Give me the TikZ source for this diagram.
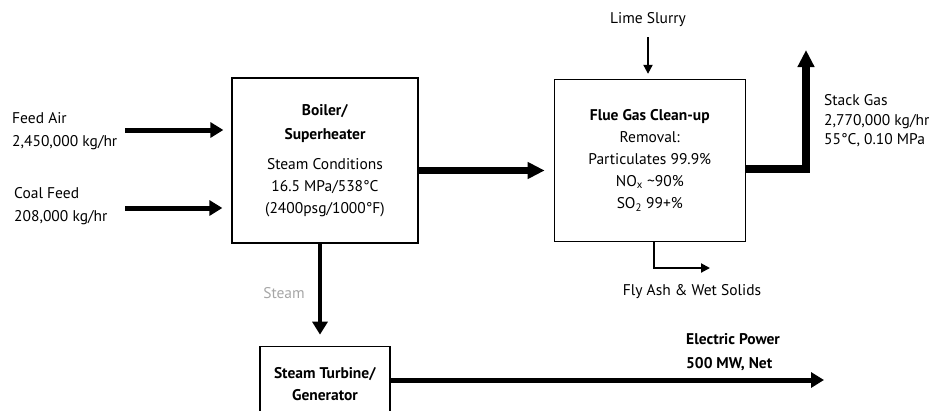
\documentclass[tikz,border=0pt]{standalone}
\usepackage{fontspec}
\setmainfont{PT Sans}
\usetikzlibrary{arrows.meta, positioning}

\begin{document}
\begin{tikzpicture}[
  x=1pt, y=-1pt,
  font=\fontsize{15.5}{23}\selectfont,
  box/.style={draw, line width=1.3pt, align=center, inner sep=0pt,
              font=\fontsize{15.5}{22}\selectfont},
  lbl/.style={align=left, inner sep=0pt},
  flow/.style={-{Triangle[length=13pt, width=15pt]}, line width=5pt},
  bigflow/.style={-{Triangle[length=17pt, width=16pt]}, line width=7.5pt},
  thinflow/.style={-{Triangle[length=9pt, width=9pt]}, line width=2pt}
]
  \useasboundingbox (0,0) rectangle (931,410);
  \clip (0,0) rectangle (931,410);

  \node[box, minimum width=186pt, minimum height=165pt] (boiler) at (325,160.5)
    {\textbf{Boiler/}\\[2pt]\textbf{Superheater}\\[8pt]Steam Conditions\\16.5 MPa/538°C\\(2400psg/1000°F)};
  \node[box, minimum width=191pt, minimum height=162pt, right=135pt of boiler] (flue)
    {\textbf{Flue Gas Clean-up}\\Removal:\\Particulates 99.9\%\\NO\textsubscript{x} \textasciitilde90\%\\SO\textsubscript{2} 99+\%};
  \node[box, minimum width=130pt, minimum height=76pt, below=102pt of boiler] (turbine)
    {\textbf{Steam Turbine/}\\\textbf{Generator}};

  \node[lbl, anchor=west] (feedair) at (12,131) {Feed Air\\2,450,000 kg/hr};
  \node[lbl, anchor=west] (coalfeed) at (14,206) {Coal Feed\\208,000 kg/hr};
  \node[lbl, anchor=west, font=\fontsize{15.5}{19.5}\selectfont] (stack) at (824,121)
    {Stack Gas\\2,770,000 kg/hr\\55°C, 0.10 MPa};
  \node[lbl] (lime) at (648,20) {Lime Slurry};
  \node[lbl] (flyash) at (692,292) {Fly Ash \& Wet Solids};
  \node[lbl, text=gray!70] (steamlbl) at (284,293) {Steam};
  \node[lbl, anchor=west, font=\fontsize{15.5}{24}\selectfont\bfseries] (power) at (686,352)
    {Electric Power\\500 MW, Net};

  \coordinate (airin) at (125,130);
  \coordinate (coalin) at (125,208);
  \coordinate (stacktop) at (806,50);
  \coordinate (ashout) at (710,268);
  \coordinate (powout) at (824,380);

  \draw[flow, shorten >=8pt] (airin) -- (airin -| boiler.west);
  \draw[flow, shorten >=9pt] (coalin) -- (coalin -| boiler.west);
  \draw[bigflow, shorten >=9pt] ([yshift=-10pt]boiler.east) -- ([yshift=-10pt]boiler.east -| flue.west);
  \draw[bigflow, line width=8pt] ([yshift=-8pt]flue.east) -| (stacktop);
  \draw[thinflow, shorten <=10pt, shorten >=5pt] (lime) -- (lime |- flue.north);
  \draw[thinflow] ([xshift=4pt]flue.south) |- (ashout);
  \draw[flow, line width=4.5pt, shorten >=11pt] ([xshift=-5pt]boiler.south) -- ([xshift=-5pt]boiler.south |- turbine.north);
  \draw[flow] (turbine.east |- powout) -- (powout);
\end{tikzpicture}
\end{document}
